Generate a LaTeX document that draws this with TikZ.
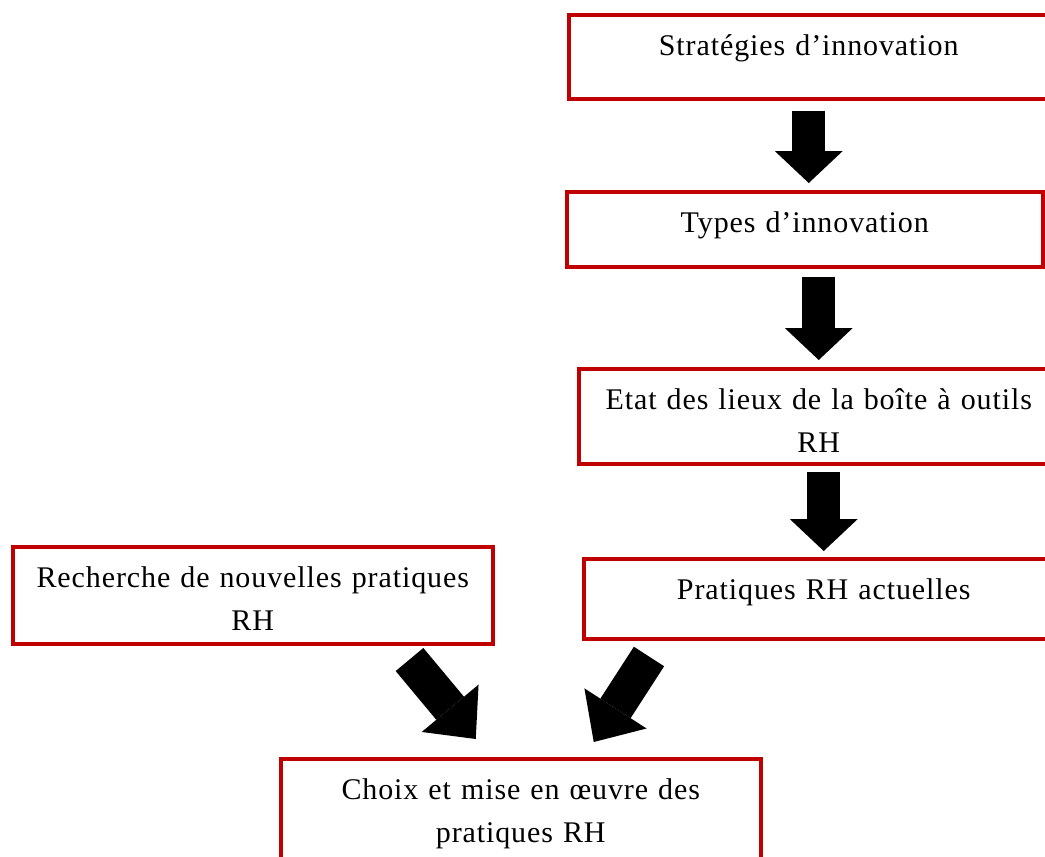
\documentclass[tikz,border=0pt]{standalone}
\usepackage{fontspec}
\setmainfont{Liberation Serif}[LetterSpace=3]
\usetikzlibrary{arrows.meta}
\definecolor{boxred}{RGB}{192,0,0}
\begin{document}
\begin{tikzpicture}[x=1pt,y=-1pt,
    box/.style={draw=boxred,line width=3.5pt,anchor=north west,inner sep=0pt,
      text width=480pt,align=center,text height=41pt,font=\fontsize{30}{43}\selectfont},
    fat/.style={line width=33pt,-{Triangle[length=32pt,width=68pt,line width=0pt]}},
    fatter/.style={line width=36pt,-{Triangle[length=40pt,width=74pt,line width=0pt]}}]
  \useasboundingbox(0,0)rectangle(1045,857);
  \clip(0,0)rectangle(1045,857);
  \node[box,text depth=43pt](strat)at(567,13){Stratégies d’innovation};
  \node[box,text depth=34pt,text width=476pt](types)at(565,190){Types d’innovation};
  \node[box,text depth=54pt](etat)at(577,367){Etat des lieux de la boîte à outils\\RH};
  \node[box,text depth=39pt](pratiques)at(582,557){Pratiques RH actuelles};
  \node[box,text depth=56pt](recherche)at(11,545){Recherche de nouvelles pratiques\\RH};
  \node[box,text depth=69pt](choix)at(279,757){Choix et mise en œuvre des\\pratiques RH};
  \draw[fat,shorten <=10pt,shorten >=7pt](strat.south)--(strat.south |- types.north);
  \draw[fat,shorten <=8pt,shorten >=7pt](etat.north |- types.south)--(etat.north);
  \draw[fat,shorten <=6pt,shorten >=6pt](pratiques.north |- etat.south)--(pratiques.north);
  \draw[fatter]([xshift=-85pt,yshift=-14pt]recherche.south east)--([xshift=-45pt,yshift=18pt]choix.north);
  \draw[fatter]([xshift=67pt,yshift=-16pt]pratiques.south west)--([xshift=73pt,yshift=15pt]choix.north);
\end{tikzpicture}
\end{document}
